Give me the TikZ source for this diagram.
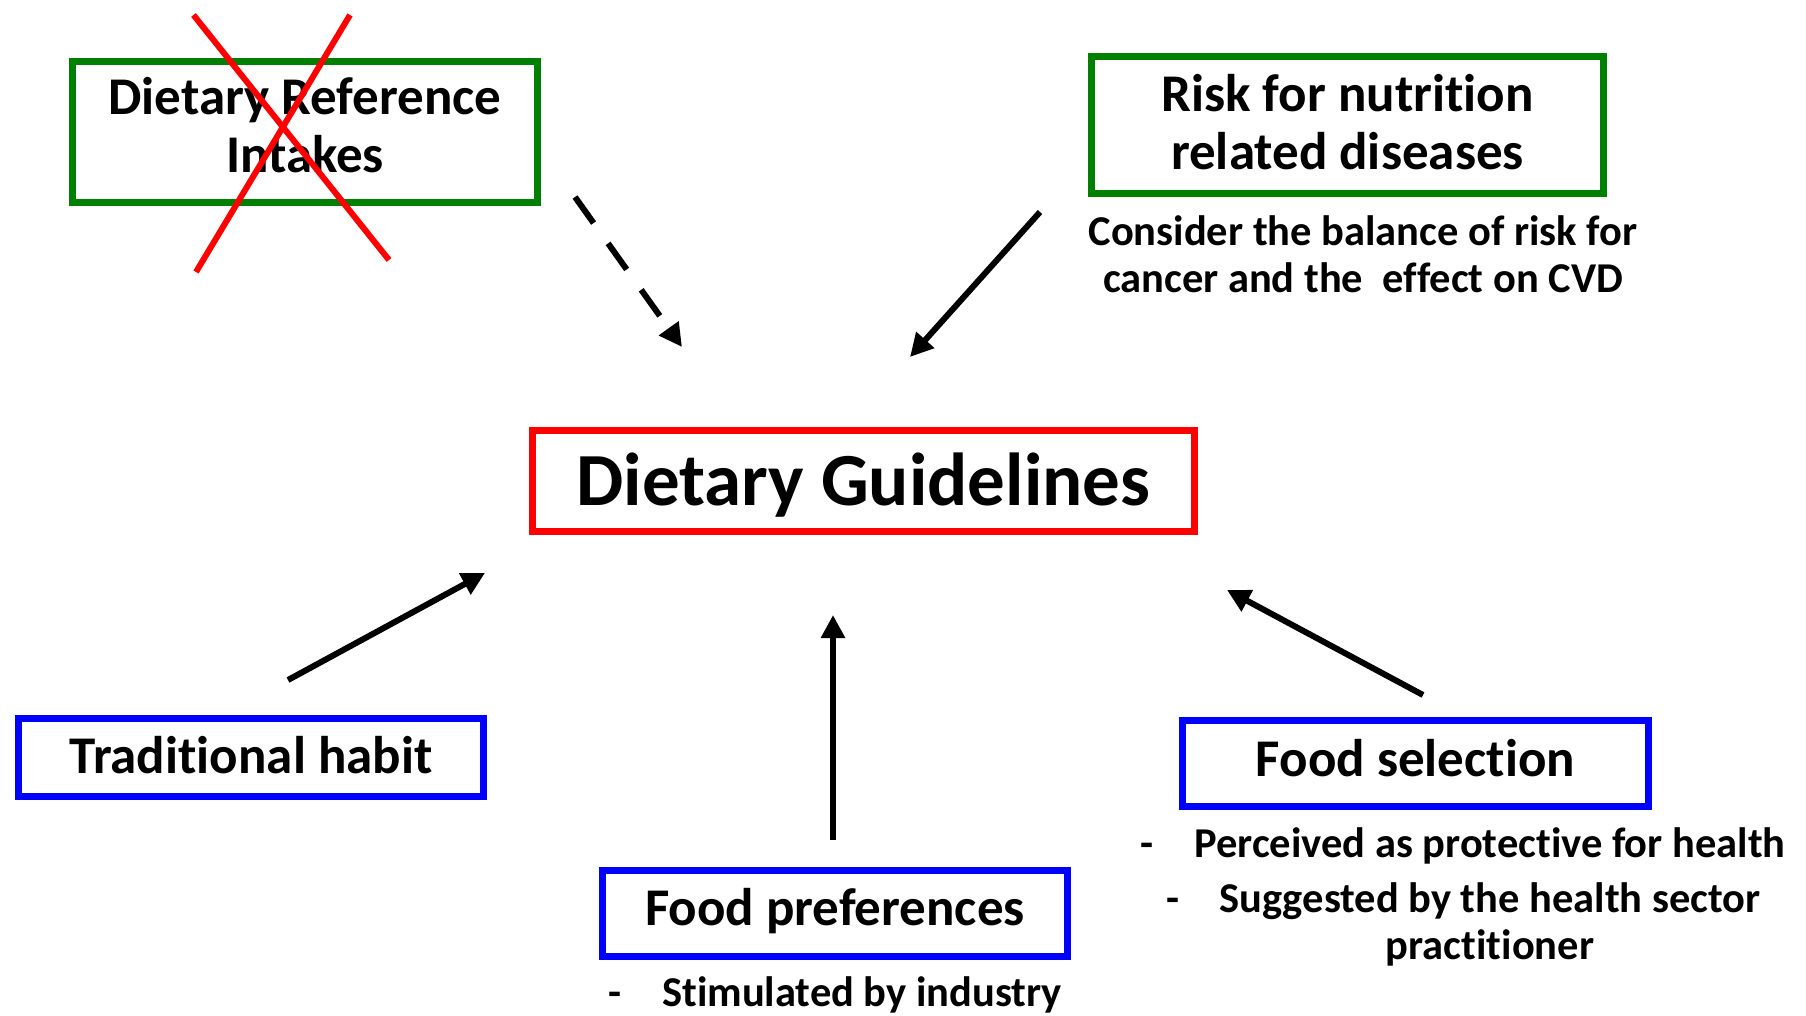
\documentclass[tikz,border=0pt]{standalone}
\usepackage{fontspec}
\setmainfont{Carlito}[Ligatures=NoCommon, RawFeature={-liga}]
\usetikzlibrary{arrows.meta}
\definecolor{boxgreen}{RGB}{0,128,0}
\definecolor{boxred}{RGB}{255,0,0}
\definecolor{boxblue}{RGB}{0,0,255}
\newcommand{\twolines}[2]{\begin{tabular}[t]{@{}c@{}}#1\\#2\end{tabular}}
\begin{document}
\begin{tikzpicture}[x=1pt,y=-1pt,
  framebox/.style={draw=#1, line width=7pt, inner sep=0pt,
    font=\bfseries\fontsize{53}{58}\selectfont},
  note/.style={inner sep=0pt, anchor=base, font=\bfseries\fontsize{42.5}{46}\selectfont},
  notel/.style={note, anchor=base west},
  flow/.style={line width=6pt, -{Triangle[length=23pt,width=23pt]}},
  cross/.style={draw=boxred, line width=6pt}]
\useasboundingbox (0,0) rectangle (1806,1016);
\fill[white] (0,0) rectangle (1806,1016);

% central box
\node[framebox=boxred, minimum width=662pt, minimum height=101pt,
  text height=48pt, text depth=0pt, font=\bfseries\fontsize{75}{80}\selectfont]
  (dg) at (863.5,481) {Dietary Guidelines};

% upper boxes (first baseline placed by the text height / depth pair)
\node[framebox=boxgreen, minimum width=465pt, minimum height=141pt,
  text height=35pt, text depth=69pt]
  (dri) at (305,132) {\twolines{Dietary Reference}{Intakes}};
\node[framebox=boxgreen, minimum width=512pt, minimum height=137pt,
  text height=35pt, text depth=61pt]
  (risk) at (1347.5,125) {\twolines{Risk for nutrition}{related diseases}};
\node[note] (riskA) at (1363,246) {Consider the balance of risk for};
\node[note] (riskB) at (1363,292) {cancer and the\ \ effect on CVD};

% striking out the reference intakes
\coordinate (xa1) at (193.5,15);  \coordinate (xa2) at (389,260);
\coordinate (xb1) at (350,15);    \coordinate (xb2) at (196,272);
\draw[cross] (xa1) -- (xa2);
\draw[cross] (xb1) -- (xb2);

% lower boxes
\node[framebox=boxblue, minimum width=465pt, minimum height=78pt,
  text height=31pt, text depth=0pt] (trad) at (251,757.5) {Traditional habit};
\node[framebox=boxblue, minimum width=465pt, minimum height=86pt,
  text height=24pt, text depth=0pt] (pref) at (835,913.5) {Food preferences};
\node[framebox=boxblue, minimum width=466pt, minimum height=86pt,
  text height=26pt, text depth=0pt] (sel) at (1415.5,763.5) {Food selection};

% remarks under the lower boxes
\node[notel] (prefdash) at (608,1006) {-};
\node[notel] (prefA) at (662,1006) {Stimulated by industry};
\node[notel] (seldashA) at (1140,857) {-};
\node[notel] (selA) at (1194,857) {Perceived as protective for health};
\node[notel] (seldashB) at (1166,912) {-};
\node[note] (selB) at (1490,912) {Suggested by the health sector};
\node[note] (selC) at (1490,959) {practitioner};

% arrow ends
\coordinate (driS) at (575,197);   \coordinate (driE) at (682,347);
\coordinate (riskS) at (1040,212); \coordinate (riskE) at (910,357);
\coordinate (tradS) at (288,680);  \coordinate (tradE) at (485,573);
\coordinate (prefS) at (833,840);  \coordinate (prefE) at (833,615);
\coordinate (selS) at (1423,695);  \coordinate (selE) at (1227,590);

\draw[flow, dash pattern=on 32pt off 25pt] (driS) -- (driE);
\draw[flow] (riskS) -- (riskE);
\draw[flow] (tradS) -- (tradE);
\draw[flow] (prefS) -- (prefE);
\draw[flow] (selS) -- (selE);
\end{tikzpicture}
\end{document}
